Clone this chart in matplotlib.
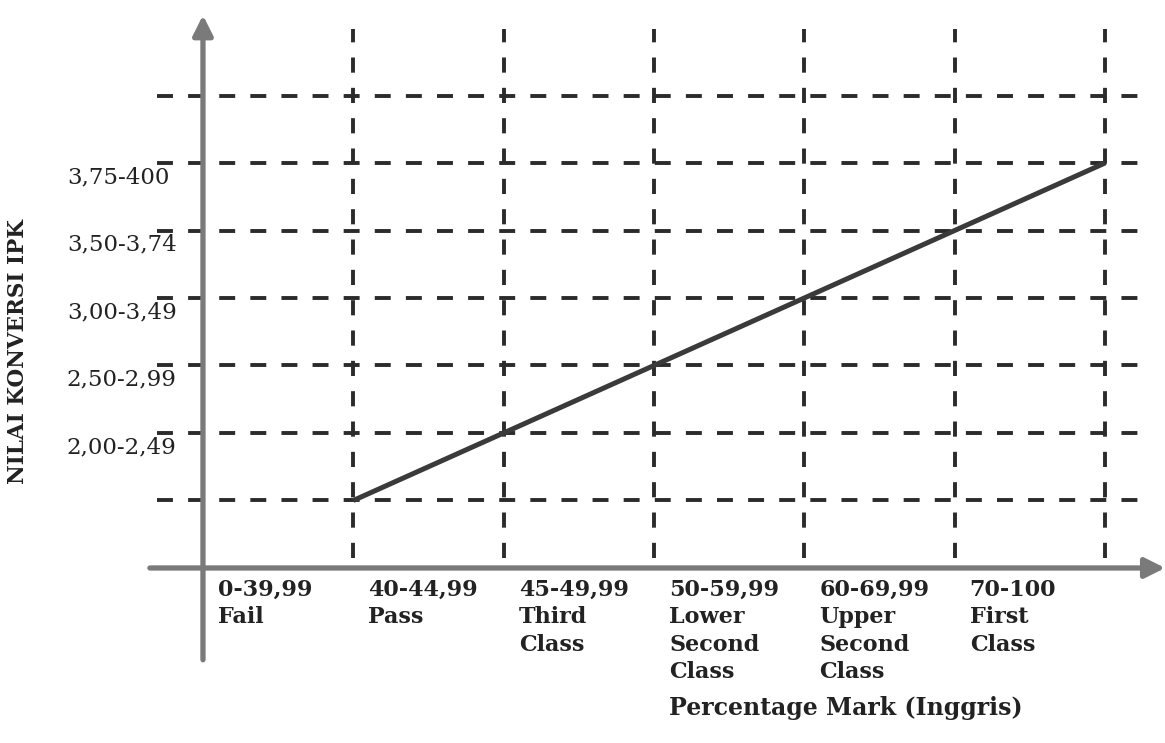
import matplotlib
matplotlib.use("Agg")
import matplotlib.pyplot as plt

# data
categories = ["0-39,99\nFail", "40-44,99\nPass", "45-49,99\nThird\nClass",
              "50-59,99\nLower\nSecond\nClass", "60-69,99\nUpper\nSecond\nClass",
              "70-100\nFirst\nClass"]
ipk_labels = ["2,00-2,49", "2,50-2,99", "3,00-3,49", "3,50-3,74", "3,75-400"]
ipk_levels = [2, 3, 4, 5, 6]
grid_x = [1, 2, 3, 4, 5, 6]
grid_y = [1, 2, 3, 4, 5, 6, 7]
line_x = [1, 2, 3, 4, 5, 6]
line_y = [1, 2, 3, 4, 5, 6]

plt.rcParams["font.family"] = "DejaVu Serif"

fig = plt.figure(figsize=(11.65, 7.43), dpi=100)
ax = fig.add_axes([0, 0, 1, 1])
ax.set_xlim(-1.350, 6.399)
ax.set_ylim(-2.593, 8.415)
ax.axis("off")

dark = "#2b2b2b"
axis_col = "#7a7a7a"

# dashed grid
for y in grid_y:
    ax.plot([-0.306, 6.30], [y, y], color=dark, lw=2.8,
            linestyle=(0, (4.1, 3.9)), zorder=2)
for x in grid_x:
    ax.plot([x, x], [0.15, 7.99], color=dark, lw=2.8,
            linestyle=(0, (3.9, 3.9)), zorder=2)

# main line
ax.plot(line_x, line_y, color="#3a3a3a", lw=3.6, solid_capstyle="butt", zorder=3)

# axes with arrows
arrow = dict(arrowstyle="-|>,head_length=0.6,head_width=0.3", lw=3.8,
             color=axis_col, mutation_scale=20, shrinkA=0, shrinkB=0)
ax.annotate("", xy=(0, 8.19), xytext=(0, -1.36), arrowprops=arrow, zorder=4)
ax.annotate("", xy=(6.40, 0), xytext=(-0.353, 0), arrowprops=arrow, zorder=4)

# y labels
for lab, lev in zip(ipk_labels, ipk_levels):
    ax.text(-0.905, lev - 0.21, lab, fontsize=16.5, ha="left", va="center", color="#222222")

# x labels
for i, cat in enumerate(categories):
    ax.text(i + 0.1, -0.16, cat, fontsize=16, fontweight="bold", ha="left", va="top",
            linespacing=1.32, color="#222222")

ax.text(3.1, -2.07, "Percentage Mark (Inggris)", fontsize=17, fontweight="bold",
        ha="left", va="center", color="#222222")
ax.text(-1.23, 3.2, "NILAI KONVERSI IPK", fontsize=15.5, fontweight="bold",
        rotation=90, ha="center", va="center", color="#222222")

fig.savefig("out.png", dpi=100)
